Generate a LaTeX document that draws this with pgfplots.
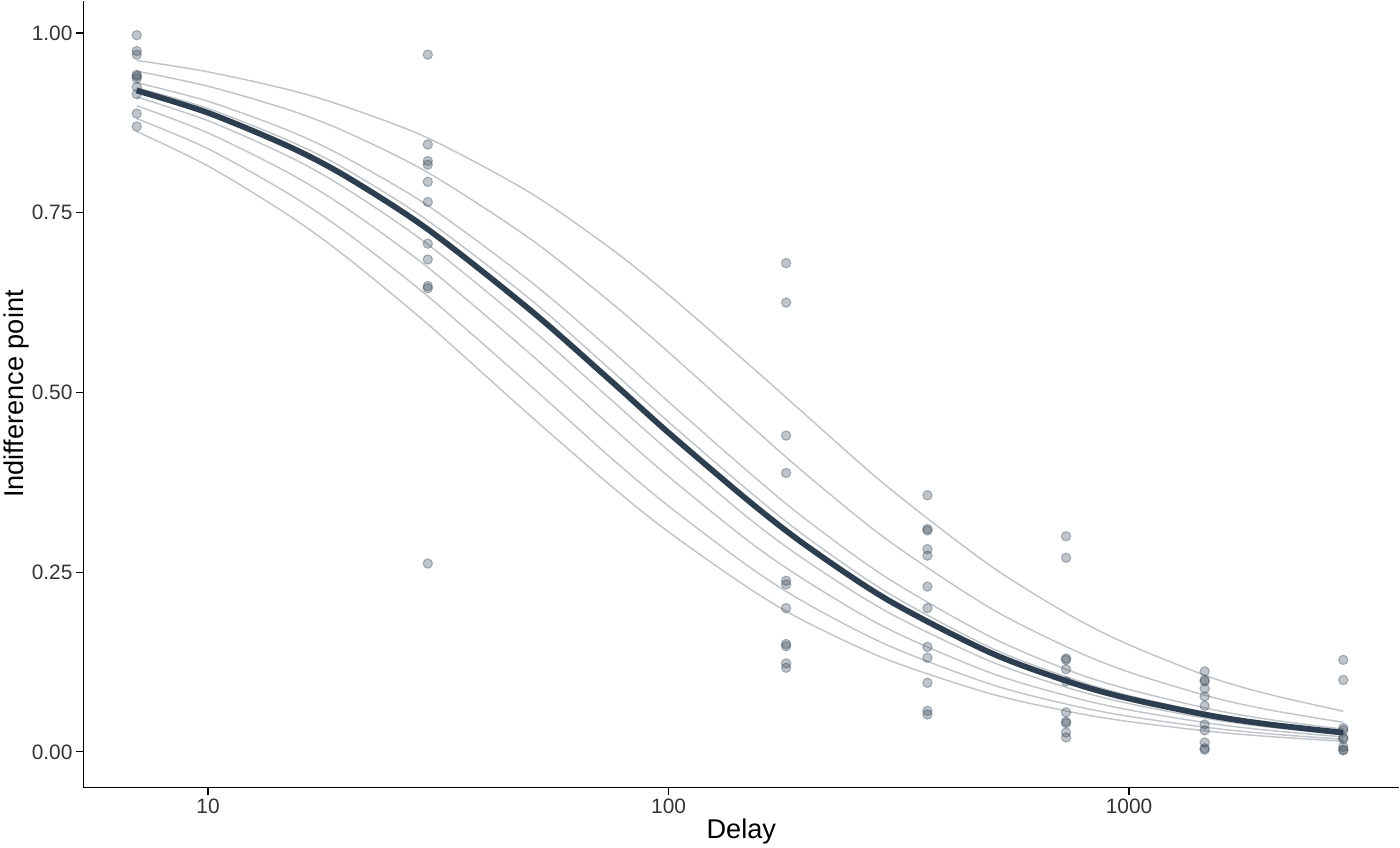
\documentclass[border=0pt]{standalone}
\usepackage{fontspec}
\setmainfont{Liberation Sans}
\usepackage{pgfplots}
\pgfplotsset{compat=1.18}
\definecolor{navy}{HTML}{2C3E50}
\begin{document}
\begin{tikzpicture}
\begin{axis}[
  scale only axis, width=1256bp, height=751bp,
  xmode=log, xmin=5.36, xmax=3864, ymin=-0.0496, ymax=1.045,
  axis lines*=left, axis line style={line width=1.4pt},
  tick align=outside, tick style={black, line width=1.2pt}, major tick length=7bp,
  minor tick length=0pt,
  xtick={10,100,1000}, xticklabels={10,100,1000},
  ytick={0,0.25,0.5,0.75,1}, yticklabels={0.00,0.25,0.50,0.75,1.00},
  ticklabel style={font=\fontsize{20}{24}\selectfont, text=black!80},
  xlabel={Delay}, ylabel={Indifference point},
  label style={font=\fontsize{26}{30}\selectfont},
  xlabel style={yshift=2bp}, ylabel style={yshift=-4bp},
  /pgf/number format/assume math mode=true,
]
\pgfplotsset{ind/.style={no marks, smooth, navy, opacity=0.3, line width=1.4pt}}
\addplot[ind] coordinates {(7,.962)(10,.946)(15,.921)(20,.897)(30,.854)(50,.778)(75,.700)(100,.636)(150,.538)(200,.467)(300,.368)(500,.259)(750,.189)(1000,.149)(1500,.104)(2000,.0805)(2920,.0565)};
\addplot[ind] coordinates {(7,.947)(10,.926)(15,.893)(20,.862)(30,.806)(50,.714)(75,.625)(100,.556)(150,.455)(200,.385)(300,.294)(500,.2)(750,.143)(1000,.111)(1500,.0769)(2000,.0588)(2920,.0411)};
\addplot[ind] coordinates {(7,.931)(10,.905)(15,.864)(20,.826)(30,.760)(50,.655)(75,.559)(100,.487)(150,.388)(200,.322)(300,.241)(500,.160)(750,.112)(1000,.0868)(1500,.0596)(2000,.0453)(2920,.0315)};
\addplot[ind] coordinates {(7,.924)(10,.895)(15,.85)(20,.810)(30,.739)(50,.630)(75,.531)(100,.459)(150,.362)(200,.298)(300,.221)(500,.145)(750,.102)(1000,.0783)(1500,.0536)(2000,.0408)(2920,.0283)};
\addplot[ind] coordinates {(7,.911)(10,.878)(15,.828)(20,.783)(30,.706)(50,.590)(75,.490)(100,.419)(150,.324)(200,.265)(300,.194)(500,.126)(750,.0876)(1000,.0672)(1500,.0458)(2000,.0347)(2920,.0241)};
\addplot[ind] coordinates {(7,.899)(10,.861)(15,.805)(20,.756)(30,.674)(50,.554)(75,.453)(100,.383)(150,.292)(200,.237)(300,.171)(500,.110)(750,.0764)(1000,.0584)(1500,.0397)(2000,.0301)(2920,.0208)};
\addplot[ind] coordinates {(7,.881)(10,.839)(15,.776)(20,.722)(30,.634)(50,.510)(75,.409)(100,.342)(150,.257)(200,.206)(300,.148)(500,.0942)(750,.0648)(1000,.0494)(1500,.0335)(2000,.0253)(2920,.0175)};
\addplot[ind] coordinates {(7,.863)(10,.815)(15,.746)(20,.688)(30,.595)(50,.468)(75,.370)(100,.306)(150,.227)(200,.180)(300,.128)(500,.0809)(750,.0554)(1000,.0421)(1500,.0285)(2000,.0215)(2920,.0148)};
\addplot[only marks, mark=*, mark size=4.5pt, mark options={fill=navy, fill opacity=0.3, draw=navy, draw opacity=0.35, line width=1pt}] coordinates {
(7,.997)(7,.975)(7,.970)(7,.942)(7,.940)(7,.937)(7,.925)(7,.915)(7,.888)(7,.870)
(30,.970)(30,.845)(30,.822)(30,.817)(30,.793)(30,.765)(30,.707)(30,.685)(30,.648)(30,.645)(30,.262)
(180,.680)(180,.625)(180,.440)(180,.388)(180,.238)(180,.233)(180,.200)(180,.150)(180,.147)(180,.123)(180,.117)
(365,.357)(365,.310)(365,.308)(365,.282)(365,.273)(365,.230)(365,.200)(365,.146)(365,.131)(365,.096)(365,.057)(365,.052)
(730,.300)(730,.270)(730,.130)(730,.128)(730,.115)(730,.098)(730,.055)(730,.042)(730,.040)(730,.027)(730,.020)
(1460,.112)(1460,.100)(1460,.098)(1460,.088)(1460,.077)(1460,.064)(1460,.038)(1460,.030)(1460,.013)(1460,.005)(1460,.003)
(2920,.128)(2920,.100)(2920,.033)(2920,.030)(2920,.020)(2920,.018)(2920,.007)(2920,.003)(2920,.002)};
\addplot[no marks, smooth, navy, line width=5.5pt] coordinates {(7,.920)(10,.889)(15,.842)(20,.800)(30,.727)(50,.615)(75,.516)(100,.444)(150,.348)(200,.286)(300,.211)(500,.138)(750,.0964)(1000,.0741)(1500,.0506)(2000,.0385)(2920,.0267)};
\end{axis}
\end{tikzpicture}
\end{document}
